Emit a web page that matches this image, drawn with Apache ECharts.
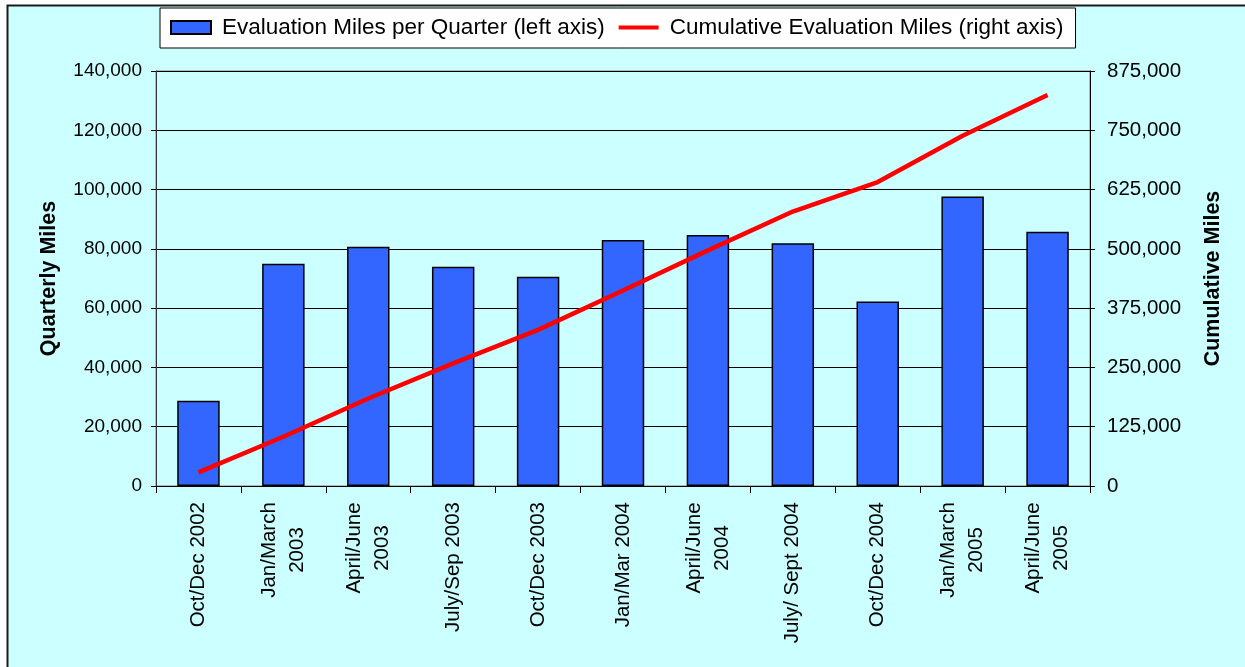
<!DOCTYPE html>
<html>
<head>
<meta charset="utf-8">
<script src="https://cdn.jsdelivr.net/npm/echarts@6/dist/echarts.min.js"></script>
<style>
html,body{margin:0;padding:0;background:#ffffff;}
#chart{width:1245px;height:667px;}
</style>
</head>
<body>
<div id="chart"></div>
<script>
var categories = ['Oct/Dec 2002', 'Jan/March\n2003', 'April/June\n2003', 'July/Sep 2003', 'Oct/Dec 2003', 'Jan/Mar 2004', 'April/June\n2004', 'July/ Sept 2004', 'Oct/Dec 2004', 'Jan/March\n2005', 'April/June\n2005'];
var quarterlyMiles = [28800, 75000, 80700, 74000, 70600, 83000, 84700, 81900, 62200, 97700, 85800];
var cumulativeMiles = [28800, 103800, 184500, 258500, 329100, 412100, 496800, 578700, 640900, 738600, 824400];
var leftTicks = {min: 0, max: 140000, interval: 20000};
var rightTicks = {min: 0, max: 875000, interval: 125000};
var seriesNames = ['Evaluation Miles per Quarter (left axis)', 'Cumulative Evaluation Miles (right axis)'];
var axisTitles = ['Quarterly Miles', 'Cumulative Miles'];

var FONT = '"Liberation Sans", Arial, sans-serif';
var catFont = 20.5;
var catLineHeight = 28;

// measure text widths to center lines within two-line labels
var cvs = document.createElement('canvas');
var ctx = cvs.getContext('2d');
ctx.font = catFont + 'px "Liberation Sans"';
var rich = {};
var fmtMap = {};
categories.forEach(function (c, i) {
  var lines = c.split('\n');
  if (lines.length > 1) {
    var w = Math.max.apply(null, lines.map(function (l) { return ctx.measureText(l).width; }));
    rich['w' + i] = {width: Math.ceil(w), align: 'center', fontSize: catFont, fontFamily: FONT, color: '#000', lineHeight: catLineHeight};
    fmtMap[c] = lines.map(function (l) { return '{w' + i + '|' + l + '}'; }).join('\n');
  } else {
    fmtMap[c] = c;
  }
});

function fmtNum(v) { return v.toLocaleString('en-US'); }

var chart = echarts.init(document.getElementById('chart'), null, {renderer: 'canvas'});
chart.setOption({
  backgroundColor: '#ffffff',
  animation: false,
  textStyle: {fontFamily: FONT},
  graphic: [{
    type: 'rect', z: -10, silent: true,
    shape: {x: 7.5, y: 5.5, width: 1260, height: 680},
    style: {fill: '#CCFFFF', stroke: '#1a1a1a', lineWidth: 2}
  }],
  legend: {
    left: 160, top: 8,
    padding: [8, 12, 9, 10],
    itemGap: 14,
    itemWidth: 40, itemHeight: 13,
    backgroundColor: '#ffffff',
    borderColor: '#000000', borderWidth: 1,
    textStyle: {fontSize: 22.5, color: '#000', fontFamily: FONT, padding: [0, 0, 0, 6]},
    data: [
      {name: seriesNames[0], icon: 'rect'},
      {name: seriesNames[1], icon: 'path://M0,0L48,0L48,5L0,5Z'}
    ]
  },
  grid: {
    left: 156, right: 155, top: 71, bottom: 181,
    show: true, borderColor: '#808080', borderWidth: 1, backgroundColor: 'transparent'
  },
  xAxis: {
    type: 'category',
    data: categories,
    boundaryGap: true,
    axisLine: {lineStyle: {color: '#000', width: 1}},
    axisTick: {show: true, length: 7, lineStyle: {color: '#000'}},
    axisLabel: {
      rotate: 90, interval: 0, margin: 16,
      fontSize: catFont, color: '#000', fontFamily: FONT, lineHeight: catLineHeight,
      formatter: function (v) { return fmtMap[v]; },
      rich: rich
    }
  },
  yAxis: [{
    type: 'value',
    min: leftTicks.min, max: leftTicks.max, interval: leftTicks.interval,
    name: axisTitles[0], nameLocation: 'middle', nameGap: 96,
    nameTextStyle: {fontSize: 21.5, fontWeight: 'bold', color: '#000', fontFamily: FONT},
    axisLine: {show: true, lineStyle: {color: '#333', width: 1}},
    axisTick: {show: true, length: 5, lineStyle: {color: '#000'}},
    axisLabel: {fontSize: 19, color: '#000', margin: 14, fontFamily: FONT, formatter: fmtNum},
    splitLine: {show: true, lineStyle: {color: '#000', width: 1}}
  }, {
    type: 'value', position: 'right',
    min: rightTicks.min, max: rightTicks.max, interval: rightTicks.interval,
    name: axisTitles[1], nameLocation: 'middle', nameGap: 112, nameRotate: 90,
    nameTextStyle: {fontSize: 21.5, fontWeight: 'bold', color: '#000', fontFamily: FONT},
    axisLine: {show: true, lineStyle: {color: '#000', width: 1}},
    axisTick: {show: true, length: 5, lineStyle: {color: '#000'}},
    axisLabel: {fontSize: 20.5, color: '#000', margin: 17, fontFamily: FONT, formatter: fmtNum},
    splitLine: {show: false}
  }],
  series: [{
    name: seriesNames[0],
    type: 'bar',
    yAxisIndex: 0,
    data: quarterlyMiles,
    barWidth: '50%',
    itemStyle: {color: '#3366FF', borderColor: '#000', borderWidth: 1.5}
  }, {
    name: seriesNames[1],
    type: 'line',
    yAxisIndex: 1,
    data: cumulativeMiles,
    symbol: 'none',
    lineStyle: {color: '#FF0000', width: 4.5},
    itemStyle: {color: '#FF0000'}
  }]
});
</script>
</body>
</html>
